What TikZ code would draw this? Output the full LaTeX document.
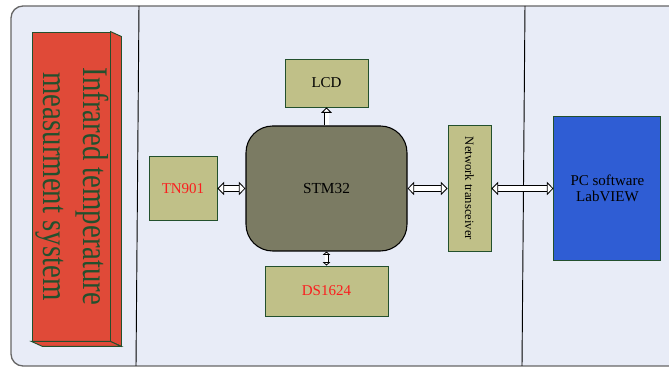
\documentclass[tikz,border=0pt]{standalone}
\usepackage{fontspec}
\setmainfont{Liberation Serif}
\newfontfamily\narrowserif[FakeStretch=0.8]{Liberation Serif}
\usetikzlibrary{
  arrows.meta,
  positioning,
  calc
}
\definecolor{panelbg}{RGB}{232,236,247}
\definecolor{partkhaki}{RGB}{192,192,136}
\definecolor{mcugray}{RGB}{123,123,99}
\definecolor{pcblue}{RGB}{47,93,212}
\definecolor{sysred}{RGB}{224,74,56}
\definecolor{edgegreen}{RGB}{35,80,45}
\definecolor{labelred}{RGB}{250,30,30}
\tikzset{
  partbox/.style={draw=edgegreen, fill=partkhaki, line width=0.7pt,
    inner sep=0pt, align=center, font=\fontsize{11.25}{12}\selectfont},
  mcubox/.style={draw=black, fill=mcugray, rounded corners=20pt,
    line width=0.8pt, inner sep=0pt, align=center,
    font=\fontsize{11.5}{12}\selectfont},
  pcbox/.style={draw=edgegreen, fill=pcblue, line width=0.7pt,
    inner sep=0pt, align=center, font=\fontsize{11.25}{12}\selectfont},
  busarr/.style={double=white, double distance=3.6pt, line width=0.6pt,
    {Triangle[fill=white, width=10pt, length=5pt]}-{Triangle[fill=white, width=10pt, length=5pt]}},
  uparr/.style={double=white, double distance=3pt, line width=0.6pt,
    -{Triangle[fill=white, width=8pt, length=4pt]}},
  smallarr/.style={double=white, double distance=1.8pt, line width=0.6pt,
    {Triangle[fill=white, width=5.5pt, length=2.5pt]}-{Triangle[fill=white, width=5.5pt, length=2.5pt]}},
}

\begin{document}
\begin{tikzpicture}[x=0.75pt, y=0.75pt]
  \useasboundingbox (0,0) rectangle (669,367);

  % Panel
  \draw[draw=black!60, line width=1pt, fill=panelbg, rounded corners=9pt]
    (11,1) rectangle (700,361);
  \draw[line width=0.7pt] (139,361) -- (136,1);
  \draw[line width=0.7pt] (525,361) -- (522,1);

  % System block
  \node[draw=edgegreen, fill=sysred, line width=0.7pt, inner sep=0pt,
    minimum width=58.5pt, minimum height=231.75pt] (sys) at (71,180.5) {};
  \draw[draw=edgegreen, fill=sysred, line width=0.7pt]
    (sys.north east) -- ++(11,-5) -- ($(sys.south east)+(11,-5)$)
    -- (sys.south east) -- cycle;
  \draw[draw=edgegreen, fill=sysred, line width=0.7pt]
    (sys.south west) -- ++(11,-5) -- ($(sys.south east)+(11,-5)$)
    -- (sys.south east) -- cycle;
  \node[rotate=-90, align=center, text=edgegreen,
    font=\narrowserif\fontsize{27}{30}\selectfont] at ($(sys)+(1,0)$)
    {Infrared temperature\\measurment system};

  % STM32
  \node[mcubox, minimum width=120.75pt, minimum height=93.75pt] (stm)
    at (326.5,178.5) {STM32};

  % TN901
  \node[partbox, minimum width=51pt, minimum height=48pt, text=labelred,
    left=21pt of stm] (tn) {TN901};

  % LCD
  \node[partbox, minimum width=62.25pt, minimum height=36pt,
    above=13.5pt of stm] (lcd) {LCD};

  % DS1624
  \node[partbox, minimum width=92.25pt, minimum height=37.5pt, text=labelred,
    below=10.5pt of stm] (ds) {DS1624};

  % Network transceiver
  \node[partbox, minimum width=32.25pt, minimum height=94.5pt,
    right=30pt of stm] (net) {};
  \node[rotate=-90, font=\fontsize{9.5}{11}\selectfont] at (net) {Network transceiver};

  % PC
  \node[pcbox, minimum width=80.25pt, minimum height=108pt,
    right=46.5pt of net] (pc) {PC software\\LabVIEW};

  % buses
  \draw[busarr] (tn) -- (stm);
  \draw[busarr] (stm) -- (net);
  \draw[busarr] (net) -- (pc);
  \draw[uparr] (stm) -- (lcd);
  \draw[smallarr] (stm) -- (ds);
\end{tikzpicture}
\end{document}
